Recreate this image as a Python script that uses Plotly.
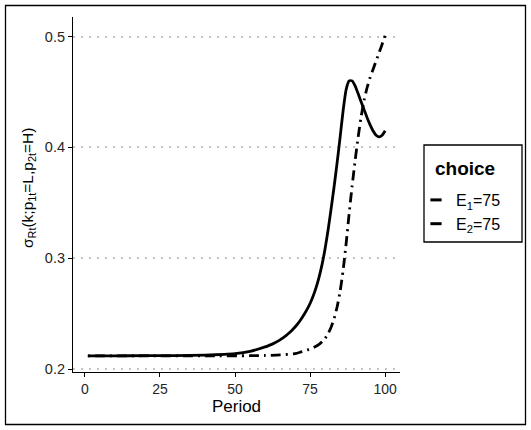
import plotly.graph_objects as go

# Period values and series
period_e1 = [1, 10, 20, 30, 40, 50, 55, 60, 61, 62, 63, 64, 65, 66, 67, 68, 69, 70, 71, 72, 73, 74,
             75, 76, 77, 78, 79, 80, 81, 82, 83, 84, 85, 86, 87, 88, 89, 90, 91, 92, 93, 94, 95,
             96, 97, 98, 99, 100]
sigma_e1 = [0.2120, 0.2120, 0.2121, 0.2122, 0.2127, 0.2140, 0.2160, 0.2200, 0.2210, 0.2221, 0.2234,
            0.2248, 0.2264, 0.2282, 0.2302, 0.2325, 0.2351, 0.2380, 0.2413, 0.2450, 0.2492, 0.2539,
            0.2592, 0.2657, 0.2735, 0.2830, 0.2945, 0.3085, 0.3255, 0.3445, 0.3645, 0.3860, 0.4090,
            0.4330, 0.4520, 0.4600, 0.4600, 0.4555, 0.4485, 0.4412, 0.4340, 0.4268, 0.4203, 0.4148,
            0.4110, 0.4095, 0.4110, 0.4150]

period_e2 = [1, 20, 40, 55, 60, 65, 70, 72, 74, 76, 77, 78, 79, 80, 81, 82, 83, 84, 85, 86, 87, 88,
             89, 90, 91, 92, 93, 94, 95, 96, 97, 98, 99, 100]
sigma_e2 = [0.2120, 0.2120, 0.2120, 0.2121, 0.2123, 0.2128, 0.2140, 0.2155, 0.2172, 0.2193, 0.2207,
            0.2224, 0.2247, 0.2278, 0.2320, 0.2378, 0.2455, 0.2560, 0.2700, 0.2890, 0.3130, 0.3400,
            0.3650, 0.3880, 0.4090, 0.4275, 0.4425, 0.4540, 0.4630, 0.4705, 0.4780, 0.4855, 0.4930,
            0.5010]

series_names = ["E<sub>1</sub>=75", "E<sub>2</sub>=75"]
legend_title = "choice"
x_title = "Period"
y_title = "σ<sub>Rt</sub>(k;p<sub>1t</sub>=L,p<sub>2t</sub>=H)"
x_ticks = [0, 25, 50, 75, 100]
y_ticks = [0.2, 0.3, 0.4, 0.5]

FONT = "Liberation Sans, Arial, Helvetica, sans-serif"
dash_e2 = "2px,5px,10px,5px"

fig = go.Figure()
fig.add_trace(go.Scatter(x=period_e1, y=sigma_e1, mode="lines", line=dict(color="black", width=2.8),
                         showlegend=False, line_shape="spline", line_smoothing=0.6))
fig.add_trace(go.Scatter(x=period_e2, y=sigma_e2, mode="lines",
                         line=dict(color="black", width=2.8, dash=dash_e2),
                         showlegend=False, line_shape="spline", line_smoothing=0.6))
# legend keys (short dash symbols)
for nm in series_names:
    fig.add_trace(go.Scatter(x=[None], y=[None], mode="markers", name=nm,
                             marker=dict(symbol="line-ew", size=8, color="black",
                                         line=dict(color="black", width=3))))

L, R, T, B = 73, 131, 17, 58
W, H = 531, 430
pw, ph = W - L - R, H - T - B

def px2x(px):
    return (px - L) / pw

def py2y(py):
    return (H - B - py) / ph

# outer figure border
fig.add_shape(type="rect", xref="paper", yref="paper",
              x0=px2x(5.5), x1=px2x(525.5), y0=py2y(424.5), y1=py2y(5.5),
              line=dict(color="black", width=1.3), fillcolor="rgba(0,0,0,0)", layer="below")
# legend box
fig.add_shape(type="rect", xref="paper", yref="paper",
              x0=px2x(424), x1=px2x(522), y0=py2y(242), y1=py2y(145),
              line=dict(color="black", width=1.3), fillcolor="rgba(0,0,0,0)", layer="below")
fig.add_annotation(xref="paper", yref="paper", x=px2x(433), y=py2y(168),
                   xanchor="left", yanchor="middle", showarrow=False,
                   text="<b>" + legend_title + "</b>", font=dict(size=19, family=FONT, color="black"))
# y axis title
fig.add_annotation(xref="paper", yref="paper", x=px2x(28), y=py2y(188),
                   xanchor="center", yanchor="middle", showarrow=False, textangle=-90,
                   text=y_title, font=dict(size=15.5, family=FONT, color="black"))

fig.update_layout(
    width=W, height=H,
    margin=dict(l=L, r=R, t=T, b=B),
    paper_bgcolor="white", plot_bgcolor="white",
    font=dict(family=FONT, color="black", size=14),
    legend=dict(
        font=dict(size=16, family=FONT, color="black"),
        x=px2x(416), y=py2y(183), xanchor="left", yanchor="top",
        borderwidth=0, bgcolor="rgba(0,0,0,0)",
        itemwidth=30, tracegroupgap=0,
    ),
    xaxis=dict(
        range=[-3.95, 104.95], tickvals=x_ticks, ticktext=[str(v) for v in x_ticks],
        showgrid=False, zeroline=False, showline=True, linecolor="black", linewidth=1.2,
        ticks="outside", ticklen=4, tickwidth=1.2, tickcolor="black",
        tickfont=dict(size=14, color="#262626"),
        title=dict(text=x_title, font=dict(size=17), standoff=3),
    ),
    yaxis=dict(
        range=[0.1974, 0.5176], tickvals=y_ticks, ticktext=["0.2", "0.3", "0.4", "0.5"],
        showgrid=True, gridcolor="#c4c4c4", gridwidth=1.5, griddash="1.5px,6.5px",
        zeroline=False, showline=True, linecolor="black", linewidth=1.2,
        ticks="outside", ticklen=4, tickwidth=1.2, tickcolor="black",
        tickfont=dict(size=14.5, color="#262626"),
    ),
)

fig.write_html("out.html")
